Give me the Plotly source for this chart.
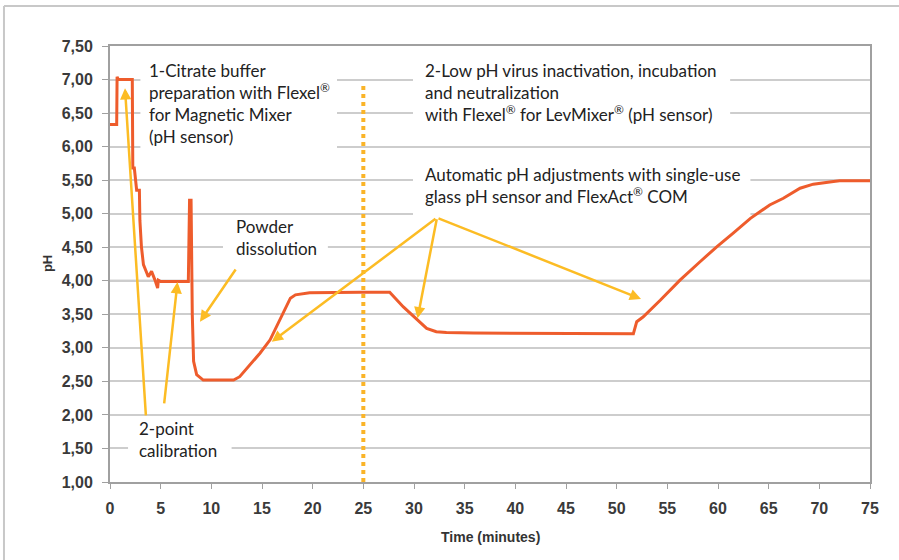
import plotly.graph_objects as go

# ---- data ----
time_min = [0, 0.66, 0.70, 0.82, 2.2, 2.25, 2.4, 2.63, 2.9, 2.95, 3.1, 3.3, 3.78, 4.1, 4.44, 4.7, 4.77, 5.0,
            7.73, 7.85, 8.0, 8.12, 8.25, 8.55, 9.2, 10.0, 12.2, 12.8, 13.8, 14.8, 15.8, 16.8, 17.8, 18.3,
            19.7, 24.7, 27.6, 28.95, 30.27, 31.25, 32.2, 33.2, 35.86, 51.65, 51.98, 52.6, 54.3, 56.25,
            58.2, 59.9, 61.5, 63.2, 65.1, 66.45, 68.1, 69.4, 71.4, 72.0, 75.0]
ph_value = [6.33, 6.33, 7.04, 7.0, 7.0, 5.68, 5.68, 5.35, 5.35, 4.9, 4.51, 4.24, 4.06, 4.14, 4.01, 3.89, 4.01, 3.99,
            3.99, 5.2, 5.2, 3.5, 2.8, 2.6, 2.52, 2.52, 2.52, 2.57, 2.74, 2.92, 3.12, 3.42, 3.74, 3.79,
            3.82, 3.83, 3.83, 3.61, 3.42, 3.29, 3.24, 3.23, 3.22, 3.21, 3.39, 3.46, 3.71, 4.01,
            4.28, 4.51, 4.71, 4.93, 5.13, 5.23, 5.38, 5.44, 5.48, 5.49, 5.49]

phase_split_time = 25
phase_split_ph = [1.0, 6.95]

xtick_values = list(range(0, 80, 5))
xtick_labels = [str(v) for v in xtick_values]
ytick_values = [1.0, 1.5, 2.0, 2.5, 3.0, 3.5, 4.0, 4.5, 5.0, 5.5, 6.0, 6.5, 7.0, 7.5]
ytick_labels = ["1,00", "1,50", "2,00", "2,50", "3,00", "3,50", "4,00", "4,50",
                "5,00", "5,50", "6,00", "6,50", "7,00", "7,50"]
emphasized_grid = [2.0, 4.0]

# arrows: (tail_t, tail_ph, head_t, head_ph)
arrow_list = [
    (3.55, 1.97, 1.48, 6.87),
    (5.33, 2.15, 6.66, 3.98),
    (12.5, 4.19, 8.88, 3.39),
    (32.27, 4.94, 15.96, 3.09),
    (32.27, 4.94, 30.35, 3.44),
    (32.27, 4.94, 52.4, 3.73),
]

ORANGE = "rgb(238,92,44)"
YELLOW = "rgb(252,188,36)"
GRID = "rgb(205,205,205)"
TEXTFONT = dict(family="Lato, Open Sans, sans-serif", size=17, color="#222")

fig = go.Figure()
fig.add_trace(go.Scatter(x=[phase_split_time, phase_split_time], y=phase_split_ph, mode="lines",
                         line=dict(color="rgb(250,180,40)", width=4, dash="4px,4px"),
                         hoverinfo="skip", showlegend=False))
fig.add_trace(go.Scatter(x=time_min, y=ph_value, mode="lines",
                         line=dict(color=ORANGE, width=3), showlegend=False))

annotations = []
for (tt, tp, ht, hp) in arrow_list:
    annotations.append(dict(x=ht, y=hp, ax=tt, ay=tp, xref="x", yref="y", axref="x", ayref="y",
                            text="", showarrow=True, arrowhead=2, arrowsize=0.9, arrowwidth=2.5,
                            arrowcolor=YELLOW, standoff=0, startstandoff=0))

texts = [
    (3.85, 7.285, "1-Citrate buffer<br>preparation with Flexel<sup>®</sup><br>for Magnetic Mixer<br>(pH sensor)"),
    (31.09, 7.285, "2-Low pH virus inactivation, incubation<br>and neutralization<br>with Flexel<sup>®</sup> for LevMixer<sup>®</sup> (pH sensor)"),
    (31.09, 5.745, "Automatic pH adjustments with single-use<br>glass pH sensor and FlexAct<sup>®</sup> COM"),
    (12.43, 4.97, "Powder<br>dissolution"),
    (2.86, 1.96, "2-point<br>calibration"),
]
for (tx, ty, txt) in texts:
    annotations.append(dict(x=tx, y=ty, xref="x", yref="y", text=txt, showarrow=False,
                            xanchor="left", yanchor="top", align="left", font=TEXTFONT,
                            borderpad=0, borderwidth=0))

annotations.append(dict(x=0.5, y=-0.126, xref="paper", yref="paper", text="<b>Time (minutes)</b>",
                        showarrow=False, xanchor="center", yanchor="middle",
                        font=dict(family="Liberation Sans Narrow, Arial Narrow, Liberation Sans", size=14, color="#333")))
annotations.append(dict(x=-0.0829, y=0.502, xref="paper", yref="paper", text="<b>pH</b>", textangle=-90,
                        showarrow=False, xanchor="center", yanchor="middle",
                        font=dict(family="Liberation Sans Narrow, Liberation Sans", size=13, color="#333")))

shapes = []
for gy in emphasized_grid:
    shapes.append(dict(type="line", xref="paper", yref="y", x0=0, x1=1, y0=gy, y1=gy,
                       line=dict(color="rgb(172,172,172)", width=2), layer="between"))
white = dict(type="rect", xref="x", yref="y", fillcolor="white", line=dict(width=0), layer="between")
shapes += [
    dict(white, x0=3.0, x1=22.4, y0=5.83, y1=7.32),
    dict(white, x0=29.9, x1=61.2, y0=6.25, y1=7.32),
    dict(white, x0=29.9, x1=63.2, y0=4.95, y1=5.80),
    dict(white, x0=11.15, x1=21.5, y0=4.28, y1=4.91),
    dict(white, x0=1.78, x1=12.0, y0=1.30, y1=1.92),
    # outer frame (left and top)
    dict(type="line", xref="paper", yref="paper", x0=-0.1395, x1=-0.1395, y0=-0.2, y1=1.0917,
         line=dict(color="rgb(200,200,200)", width=2)),
    dict(type="line", xref="paper", yref="paper", x0=-0.1395, x1=1.1, y0=1.0917, y1=1.0917,
         line=dict(color="rgb(200,200,200)", width=2)),
]

fig.update_layout(
    width=899, height=560,
    margin=dict(l=110, r=29, t=46, b=78),
    paper_bgcolor="white", plot_bgcolor="white",
    annotations=annotations, shapes=shapes,
    showlegend=False,
)
tickfont = dict(family="Liberation Sans", size=16, color="#3a3a3a", weight="bold")
fig.update_xaxes(range=[0, 75], tickvals=xtick_values, ticktext=xtick_labels, showgrid=False,
                 showline=True, linecolor="rgb(160,160,160)", linewidth=2, mirror=True,
                 ticks="outside", ticklen=5, tickwidth=1, tickcolor="rgb(160,160,160)",
                 tickfont=tickfont, zeroline=False, ticklabelstandoff=6)
fig.update_yaxes(range=[1.0, 7.5], tickvals=ytick_values, ticktext=ytick_labels, showgrid=True,
                 gridcolor=GRID, gridwidth=2,
                 showline=True, linecolor="rgb(160,160,160)", linewidth=2, mirror=True,
                 ticks="outside", ticklen=6, tickwidth=1, tickcolor="rgb(160,160,160)",
                 tickfont=tickfont, zeroline=False, ticklabelstandoff=6)

fig.write_html("out.html", config={"displayModeBar": False},
               post_script="document.body.style.margin='0';document.body.style.overflow='hidden';")
